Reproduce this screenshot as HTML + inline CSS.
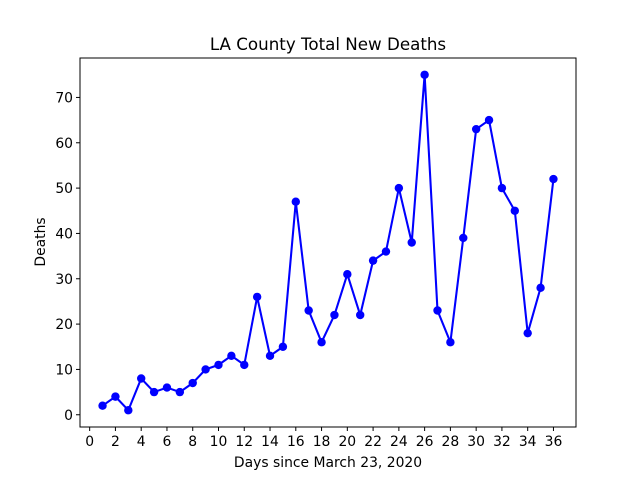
<!DOCTYPE html>
<html><head><meta charset="utf-8"><style>
body{margin:0;background:#fff;}
svg text{font-family:"DejaVu Sans","Liberation Sans",sans-serif;}
</style></head><body>
<svg id="chart" width="640" height="480">
<rect width="640" height="480" fill="#fff"/>
<text x="328" y="50" font-size="16.7" text-anchor="middle">LA County Total New Deaths</text>
<g id="plot"></g>
<rect x="80" y="58" width="496" height="369" fill="none" stroke="#000" stroke-width="1"/>
<text x="328" y="467" font-size="13.9" text-anchor="middle">Days since March 23, 2020</text>
<text transform="translate(45,242) rotate(-90)" font-size="13.9" text-anchor="middle">Deaths</text>
</svg>
<script>
const days=[1,2,3,4,5,6,7,8,9,10,11,12,13,14,15,16,17,18,19,20,21,22,23,24,25,26,27,28,29,30,31,32,33,34,35,36];
const deaths=[2,4,1,8,5,6,5,7,10,11,13,11,26,13,15,47,23,16,22,31,22,34,36,50,38,75,23,16,39,63,65,50,45,18,28,52];
const xTicks=[0,2,4,6,8,10,12,14,16,18,20,22,24,26,28,30,32,34,36];
const yTicks=[0,10,20,30,40,50,60,70];
const L=80,R=576,T=58,B=427;
const xmin=-0.75,xmax=37.75,ymin=-2.7,ymax=78.7;
const sx=v=>L+(v-xmin)/(xmax-xmin)*(R-L);
const sy=v=>B-(v-ymin)/(ymax-ymin)*(B-T);
const g=document.getElementById('plot');
const NS='http://www.w3.org/2000/svg';
function mk(t,a){const e=document.createElementNS(NS,t);for(const k in a)e.setAttribute(k,a[k]);g.appendChild(e);return e;}
xTicks.forEach(v=>{
 const l=mk('line',{x1:sx(v),x2:sx(v),y1:B,y2:B+4,stroke:'#000'});
 
 
 const t=mk('text',{x:sx(v),y:B+19,'font-size':13.9,'text-anchor':'middle'});t.textContent=v;
 
 
});
yTicks.forEach(v=>{
 const l=mk('line',{x1:L-4,x2:L,y1:sy(v),y2:sy(v),stroke:'#000'});
 
 
 const t=mk('text',{x:L-7,y:sy(v)+5,'font-size':13.9,'text-anchor':'end'});t.textContent=v;
 
 
});
const p=mk('polyline',{points:days.map((d,i)=>sx(d)+','+sy(deaths[i])).join(' '),fill:'none',stroke:'#0000ff','stroke-width':2.08});


days.forEach((d,i)=>{
 const c=mk('circle',{cx:sx(d),cy:sy(deaths[i]),r:4.2,fill:'#0000ff'});
 
 
});
</script>
</body></html>
